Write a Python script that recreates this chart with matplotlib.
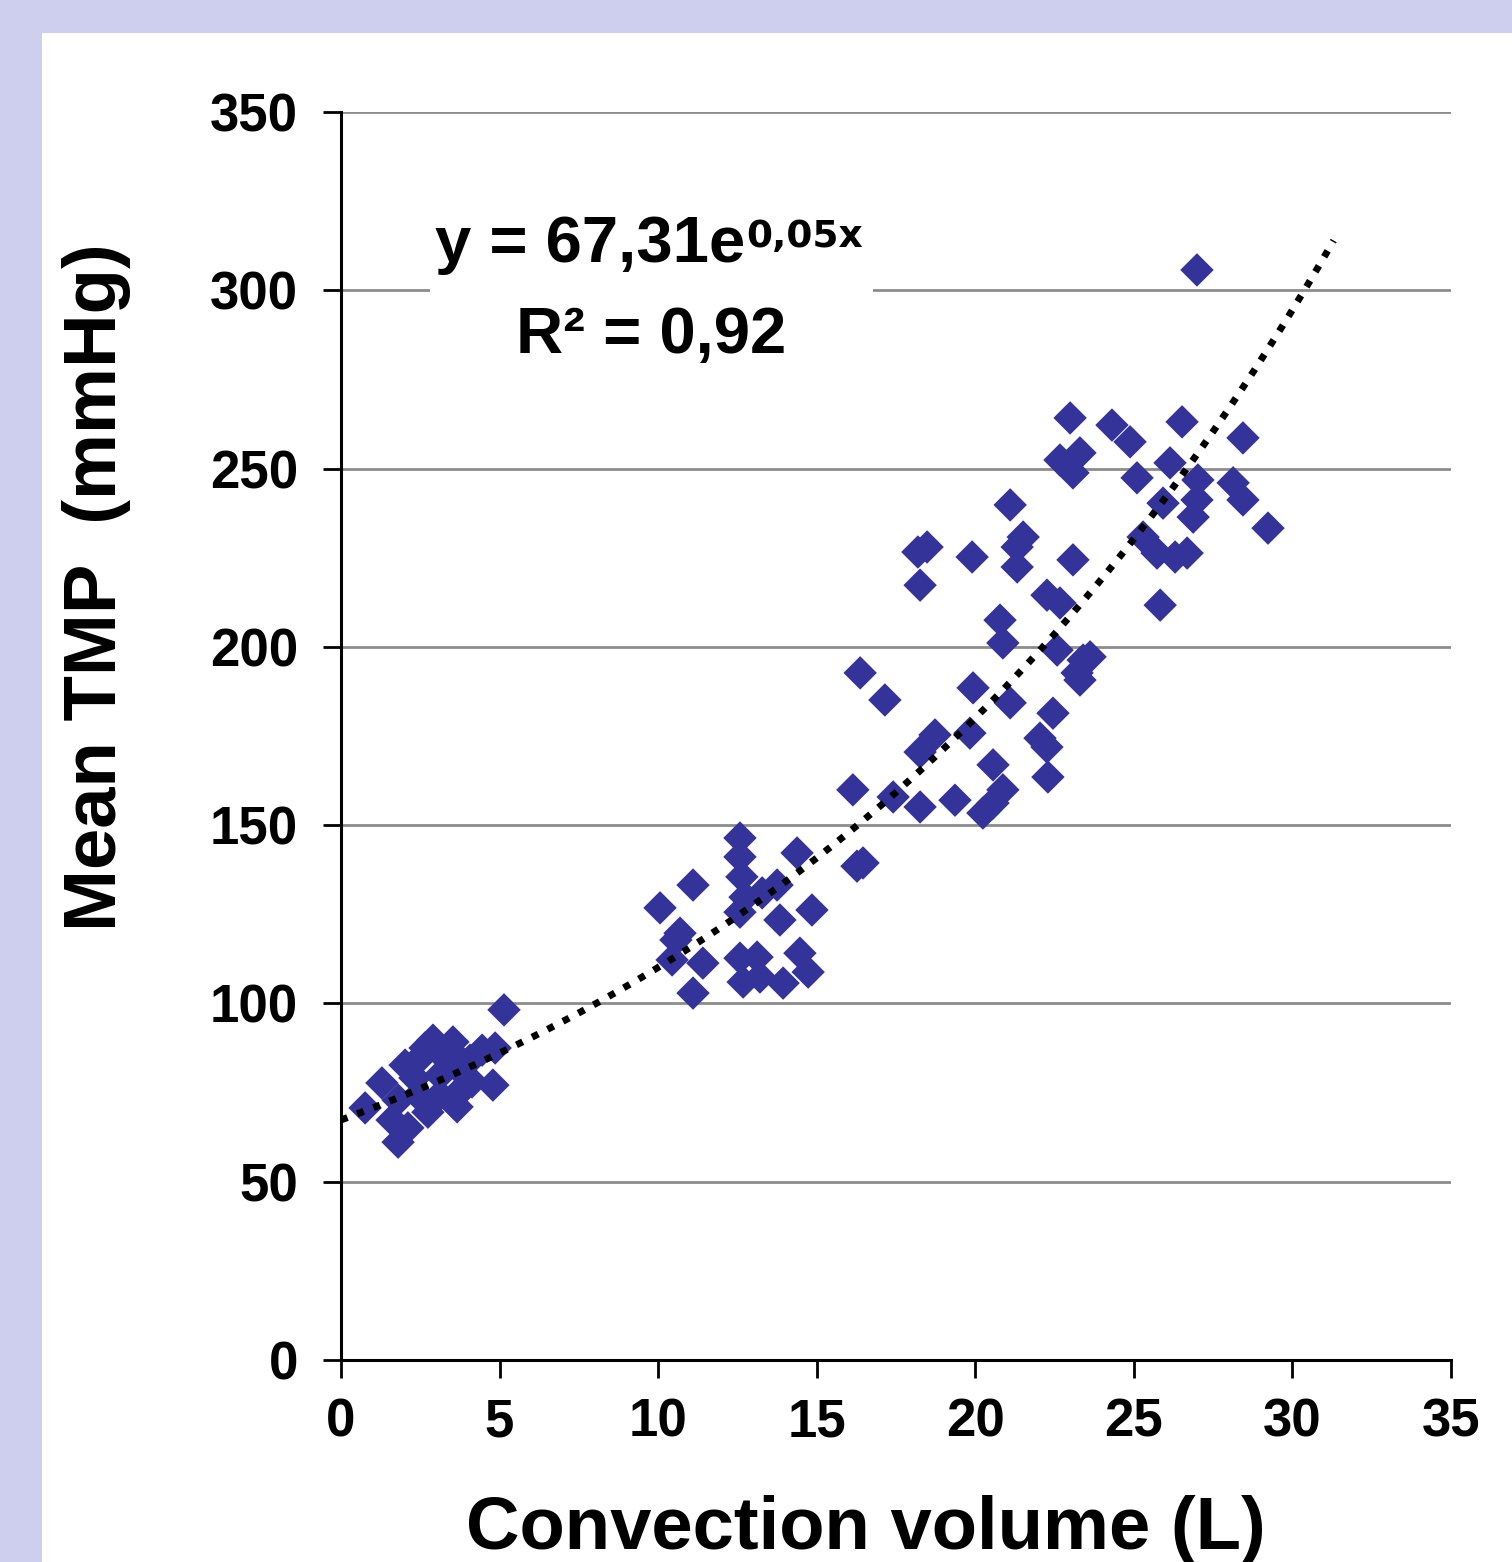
import numpy as np
import matplotlib
matplotlib.use("Agg")
import matplotlib.pyplot as plt
from matplotlib.patches import Rectangle

# Convection volume (L) per session
convection_volume = [
    0.76, 1.29, 1.80, 2.11, 2.02, 2.49, 2.90, 3.53, 3.12, 2.74, 3.59, 3.85, 4.07,
    4.45, 4.79, 4.86, 5.14, 1.80, 2.43, 3.28, 3.75, 1.61, 2.33, 3.12, 2.65, 3.69,
    4.13, 3.66,
    12.58, 12.58, 12.64, 12.74, 14.38, 11.10, 10.06, 13.75, 13.28, 12.58, 13.84,
    14.85, 10.69, 10.44, 11.41, 12.58, 13.12, 14.47, 12.68, 13.21, 13.94, 14.73,
    11.10, 10.56,
    16.27, 16.46, 16.37, 17.15, 16.14, 17.41, 18.26, 19.36, 18.73, 18.26, 19.83,
    19.93, 18.19, 18.48, 18.26, 19.90,
    20.24, 20.56, 20.87, 20.56, 21.10, 20.87, 20.78, 21.32, 21.32, 21.51, 21.10,
    22.26, 22.67, 22.58, 22.45, 22.04, 22.26, 22.29, 23.40, 23.62, 23.30, 23.21,
    23.08, 22.99, 22.67, 23.30, 23.08,
    24.31, 24.88, 26.52, 28.44, 25.10, 26.14, 27.02, 26.99, 26.87, 28.13, 28.44,
    29.23, 25.92, 25.29, 25.73, 26.68, 25.83, 26.99, 26.30,
]

# Mean transmembrane pressure (mmHg)
mean_tmp = [
    70.7, 77.7, 61.1, 65.1, 82.7, 84.7, 89.7, 89.2, 79.9, 69.5, 73.8, 76.3, 84.1,
    86.9, 77.1, 87.5, 98.2, 72.9, 74.3, 84.7, 81.3, 67.3, 79.1, 74.3, 87.5, 84.7,
    78.0, 71.0,
    146.4, 141.1, 135.5, 129.8, 142.2, 133.2, 126.8, 133.2, 131.0, 125.6, 123.4,
    126.2, 119.7, 112.2, 111.3, 112.7, 113.0, 114.1, 106.0, 107.4, 105.7, 108.8,
    102.9, 117.8,
    138.5, 139.4, 192.7, 185.1, 159.9, 157.9, 155.1, 157.0, 175.3, 170.5, 175.8,
    188.5, 226.6, 228.0, 217.3, 225.2,
    153.4, 156.2, 159.9, 166.9, 184.3, 201.1, 207.5, 222.4, 228.0, 230.8, 239.8,
    214.5, 212.3, 199.1, 181.4, 174.4, 171.9, 163.5, 196.3, 197.2, 190.7, 192.7,
    224.4, 264.2, 252.4, 254.4, 248.8,
    262.2, 257.5, 263.1, 258.6, 247.4, 251.6, 246.8, 241.2, 236.4, 246.0, 241.2,
    233.3, 240.3, 230.8, 226.3, 226.3, 211.7, 305.7, 225.2,
]

# Exponential trend y = a * exp(b * x)
trend_a = 67.31
trend_b = 0.0492
trend_r2 = 0.92
trend_x_max = 31.3

x_ticks = [0, 5, 10, 15, 20, 25, 30, 35]
y_ticks = [0, 50, 100, 150, 200, 250, 300, 350]

W, H = 1512, 1562
fig = plt.figure(figsize=(W / 100, H / 100), dpi=100)
fig.patch.set_facecolor("#CECFEE")
fig.patches.append(Rectangle((42 / W, 0), 1 - 42 / W, 1 - 33 / H,
                             transform=fig.transFigure, facecolor="white",
                             edgecolor="none", zorder=-5))

ax = fig.add_axes([341 / W, 1 - 1360 / H, 1110 / W, 1248 / H])
ax.set_facecolor("none")
ax.set_xlim(0, 35)
ax.set_ylim(0, 350)

ax.set_xticks(x_ticks)
ax.set_yticks(y_ticks)
label_font = dict(family="Liberation Sans", weight="bold", size=38)
ax.set_xticklabels([str(v) for v in x_ticks], **label_font)
ax.set_yticklabels([str(v) for v in y_ticks], **label_font)
ax.tick_params(axis="both", direction="out", length=13, width=2, color="black")
ax.tick_params(axis="y", pad=18)
ax.tick_params(axis="x", pad=14)

for side in ("top", "right"):
    ax.spines[side].set_visible(False)
for side in ("left", "bottom"):
    ax.spines[side].set_linewidth(2.2)
    ax.spines[side].set_color("black")

ax.yaxis.grid(True, color="#8C8C8C", linewidth=2.0, zorder=1)
ax.set_axisbelow(True)

# white backing behind the equation box
ax.add_patch(Rectangle(((430 - 341) / 1110, (1360 - 370) / 1248),
                       (873 - 430) / 1110, 170 / 1248,
                       transform=ax.transAxes, facecolor="white",
                       edgecolor="none", zorder=1.5))

ax.scatter(convection_volume, mean_tmp, marker="D", s=290, color="#333399",
           edgecolors="none", zorder=3)

xt = np.linspace(0, trend_x_max, 300)
ax.plot(xt, trend_a * np.exp(trend_b * xt), color="black", linewidth=5.0,
        linestyle=(0, (1, 1.5)), dash_capstyle="butt", zorder=4)

def comma(v, fmt):
    return format(v, fmt).replace(".", ",")

eq_font = dict(family="Liberation Sans", weight="bold", size=47, color="black")
t1 = fig.text(435 / W, 1 - 262 / H, "y = " + comma(trend_a, ".2f") + "e",
              ha="left", va="baseline", **eq_font)
sup = plt.Annotation(comma(trend_b, ".2f") + "x", xy=(1, 1), xycoords=t1,
                     xytext=(1, -3), textcoords="offset points", ha="left",
                     va="top", family="DejaVu Sans", weight="bold", size=27,
                     color="black", annotation_clip=False)
fig.add_artist(sup)
fig.text(651 / W, 1 - 353 / H, "R² = " + comma(trend_r2, ".2f"),
         ha="center", va="baseline", **eq_font)

axis_font = dict(family="Liberation Sans", weight="bold", size=53.5, color="black")
fig.text(866 / W, 1 - 1530 / H, "Convection volume (L)", ha="center",
         va="center", **axis_font)
fig.text(97 / W, 1 - 587 / H, "Mean TMP  (mmHg)", ha="center", va="center",
         rotation=90, **axis_font)

fig.savefig("out.png", dpi=100, facecolor=fig.get_facecolor())
